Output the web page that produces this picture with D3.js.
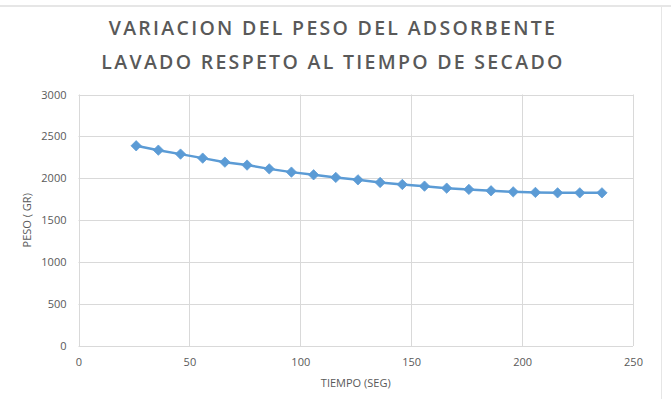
<!DOCTYPE html>
<html>
<head>
<meta charset="utf-8">
<script src="https://cdn.jsdelivr.net/npm/d3@7"></script>
<style>
html,body{margin:0;padding:0;background:#fff;}
svg{display:block;}
</style>
</head>
<body>
<svg id="chart" width="671" height="399"></svg>
<script>
const titleLines = ["VARIACION DEL PESO DEL ADSORBENTE", "LAVADO RESPETO AL TIEMPO DE SECADO"];
const xLabel = "TIEMPO (SEG)";
const yLabel = "PESO ( GR)";
const tiempo = [26, 36, 46, 56, 66, 76, 86, 96, 106, 116, 126, 136, 146, 156, 166, 176, 186, 196, 206, 216, 226, 236];
const peso = [2388, 2336, 2289, 2241, 2193, 2158, 2113, 2074, 2042, 2011, 1982, 1951, 1927, 1907, 1883, 1868, 1851, 1839, 1832, 1827, 1827, 1827];
const xTicks = [0, 50, 100, 150, 200, 250];
const yTicks = [0, 500, 1000, 1500, 2000, 2500, 3000];

const svg = d3.select("#chart");
const W = 671, H = 399;
const m = {left: 78.5, right: 633, top: 94.5, bottom: 346};

// frame
svg.append("rect").attr("x", 0).attr("y", 0).attr("width", W).attr("height", H).attr("fill", "#fff");
svg.append("rect").attr("x", 0).attr("y", 5).attr("width", W).attr("height", 2).attr("fill", "#e6e6e6");
svg.append("line").attr("x1", 661.5).attr("x2", 661.5).attr("y1", 6).attr("y2", H).attr("stroke", "#e6e6e6").attr("stroke-width", 1);

const x = d3.scaleLinear().domain([0, 250]).range([m.left, m.right]);
const y = d3.scaleLinear().domain([0, 3000]).range([m.bottom, m.top]);

// gridlines
svg.append("g").selectAll("line").data(yTicks).join("line")
  .attr("x1", m.left).attr("x2", m.right)
  .attr("y1", d => Math.round(y(d)) + 0.5).attr("y2", d => Math.round(y(d)) + 0.5)
  .attr("stroke", "#d9d9d9").attr("stroke-width", 1);
svg.append("g").selectAll("line").data(xTicks).join("line")
  .attr("y1", m.top).attr("y2", m.bottom)
  .attr("x1", d => Math.round(x(d)) + 0.5).attr("x2", d => Math.round(x(d)) + 0.5)
  .attr("stroke", "#d9d9d9").attr("stroke-width", 1);

const font = "'Open Sans', 'Noto Sans', sans-serif";

// tick labels via axes
const xAxis = d3.axisBottom(x).tickValues(xTicks).tickSize(0).tickPadding(12).tickFormat(d3.format("d"));
const gx = svg.append("g").attr("transform", `translate(0,${m.bottom})`).call(xAxis);
gx.select(".domain").remove();
gx.selectAll("text").attr("fill", "#595959").attr("font-size", 11).attr("font-family", font);

const yAxis = d3.axisLeft(y).tickValues(yTicks).tickSize(0).tickPadding(12).tickFormat(d3.format("d"));
const gy = svg.append("g").attr("transform", `translate(${m.left},0)`).call(yAxis);
gy.select(".domain").remove();
gy.selectAll("text").attr("fill", "#595959").attr("font-size", 11).attr("font-family", font);

// axis titles
svg.append("text").attr("x", (m.left + m.right) / 2).attr("y", 387)
  .attr("text-anchor", "middle").attr("fill", "#595959").attr("font-size", 11).attr("font-family", font)
  .text(xLabel);
svg.append("text").attr("transform", `translate(31,${(m.top + m.bottom) / 2}) rotate(-90)`)
  .attr("text-anchor", "middle").attr("fill", "#595959").attr("font-size", 11).attr("font-family", font)
  .text(yLabel);

// title
svg.append("g").selectAll("text").data(titleLines).join("text")
  .attr("x", 333).attr("y", (d, i) => 35 + i * 34)
  .attr("text-anchor", "middle").attr("fill", "#595959")
  .attr("font-size", 19.5).attr("font-weight", 600).attr("font-family", font)
  .attr("letter-spacing", 2.3)
  .text(d => d);

// line
const pts = tiempo.map((t, i) => [t, peso[i]]);
svg.append("path").datum(pts)
  .attr("fill", "none").attr("stroke", "#5b9bd5").attr("stroke-width", 2.5)
  .attr("stroke-linejoin", "round").attr("stroke-linecap", "round")
  .attr("d", d3.line().x(d => x(d[0])).y(d => y(d[1])));

// markers
svg.append("g").selectAll("path").data(pts).join("path")
  .attr("transform", d => `translate(${x(d[0])},${y(d[1])})`)
  .attr("d", "M0,-5.2L5.2,0L0,5.2L-5.2,0Z")
  .attr("fill", "#5b9bd5").attr("stroke", "#5b9bd5").attr("stroke-width", 0.75);
</script>
</body>
</html>
